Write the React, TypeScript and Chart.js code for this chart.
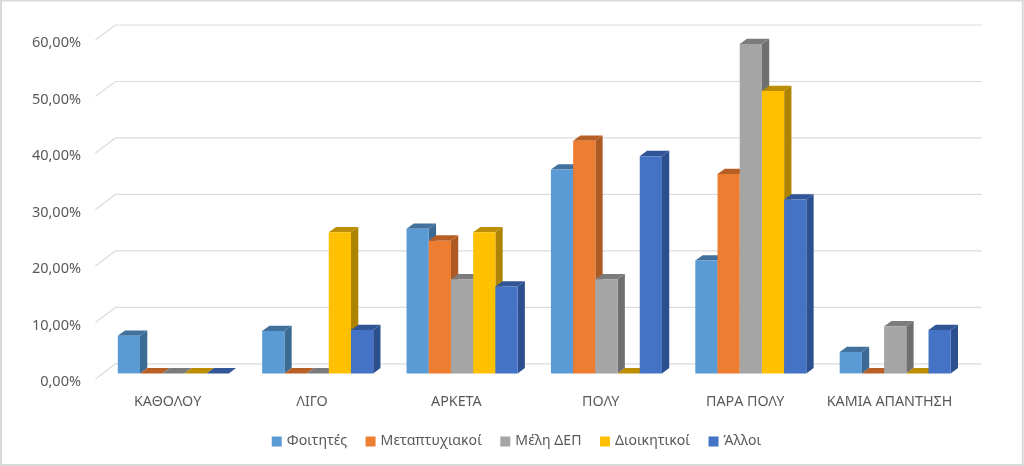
import React, { useEffect, useRef } from "react";
import { Chart, registerables } from "chart.js";

Chart.register(...registerables);

const categories = ["ΚΑΘΟΛΟΥ", "ΛΙΓΟ", "ΑΡΚΕΤΑ", "ΠΟΛΥ", "ΠΑΡΑ ΠΟΛΥ", "ΚΑΜΙΑ ΑΠΑΝΤΗΣΗ"];
const foitites = [6.67, 7.5, 25.6, 36.1, 20, 3.8];
const metaptyxiakoi = [0, 0, 23.5, 41.2, 35.3, 0];
const melesDep = [0, 0, 16.67, 16.67, 58.33, 8.33];
const dioikitikoi = [0, 25, 25, 0, 50, 0];
const alloi = [0, 7.69, 15.38, 38.46, 30.77, 7.69];
const seriesNames = ["Φοιτητές", "Μεταπτυχιακοί", "Μέλη ΔΕΠ", "Διοικητικοί", "Άλλοι"];
const frontColors = ["#5b9bd5", "#ed7d31", "#a5a5a5", "#ffc000", "#4472c4"];
const topColors = ["#41719c", "#b85f25", "#7c7c7c", "#bc8e00", "#325597"];
const sideColors = ["#3b6a94", "#ae5a23", "#6f6f6f", "#ae8300", "#2c4f8f"];
const yTicks = [0, 10, 20, 30, 40, 50, 60];
const yTickLabels = ["0,00%", "10,00%", "20,00%", "30,00%", "40,00%", "50,00%", "60,00%"];

const FONT = "Noto Sans";
const TEXT = "#595959";
const GRID = "#d9d9d9";

const frame3d = {
  id: "frame3d",
  afterLayout(chart: any) {
    // Widen the y axis box so that its tick labels are not clipped to it.
    chart.scales.y.left = 0;
  },
  beforeDraw(chart: any) {
    const { ctx, scales } = chart;
    ctx.save();
    ctx.strokeStyle = GRID;
    ctx.lineWidth = 2;
    ctx.strokeRect(1, 0.5, 1021.8, 464.5);
    ctx.lineWidth = 1.2;
    ctx.strokeStyle = "#dcdcdc";
    const x0 = scales.x.left;
    for (const v of yTicks) {
      const y = scales.y.getPixelForValue(v);
      ctx.beginPath();
      ctx.moveTo(x0, y);
      ctx.lineTo(x0 + 20, y - 15);
      ctx.lineTo(scales.x.right + 20, y - 15);
      ctx.stroke();
    }
    ctx.restore();
  },
  beforeDatasetsDraw(chart: any) {
    const { ctx } = chart;
    const dx = 7.3;
    const dy = -5.3;
    ctx.save();
    ctx.translate(5.7, -5.5);
    chart.data.datasets.forEach((_: any, i: number) => {
      const meta = chart.getDatasetMeta(i);
      meta.data.forEach((bar: any) => {
        const { x, y, base, width } = bar.getProps(["x", "y", "base", "width"]);
        const l = x - width / 2;
        const r = x + width / 2;
        ctx.fillStyle = sideColors[i];
        ctx.beginPath();
        ctx.moveTo(r, base);
        ctx.lineTo(r + dx, base + dy);
        ctx.lineTo(r + dx, y + dy);
        ctx.lineTo(r, y);
        ctx.closePath();
        ctx.fill();
        ctx.fillStyle = topColors[i];
        ctx.beginPath();
        ctx.moveTo(l, y);
        ctx.lineTo(l + dx, y + dy);
        ctx.lineTo(r + dx, y + dy);
        ctx.lineTo(r, y);
        ctx.closePath();
        ctx.fill();
        bar.draw(ctx);
      });
    });
    ctx.restore();
    return false;
  },
};

export default function App() {
  const ref = useRef<HTMLCanvasElement>(null);
  useEffect(() => {
    const chart = new Chart(ref.current as HTMLCanvasElement, {
      type: "bar",
      data: {
        labels: categories,
        datasets: [foitites, metaptyxiakoi, melesDep, dioikitikoi, alloi].map((data, i) => ({
          label: seriesNames[i],
          data,
          backgroundColor: frontColors[i],
          borderWidth: 0,
          categoryPercentage: 0.769,
          barPercentage: 1,
        })),
      },
      options: {
        responsive: false,
        animation: false,
        devicePixelRatio: 1,
        layout: { padding: { left: 73.3, right: 62.3, top: 40, bottom: 7.5 } },
        scales: {
          x: {
            border: { display: false },
            grid: { display: false, drawTicks: false },
            ticks: { color: TEXT, font: { family: FONT, size: 14.3 }, padding: 14, autoSkip: false, maxRotation: 0 },
            afterFit(s: any) {
              s.height = 35;
            },
          },
          y: {
            min: 0,
            max: 60,
            border: { display: false },
            grid: { display: false, drawTicks: false },
            afterBuildTicks(s: any) {
              s.ticks = yTicks.map((value) => ({ value }));
            },
            ticks: {
              color: TEXT,
              // An empty first line moves each label 3px below its tick, as in the reference.
              font: { family: FONT, size: 14.5, lineHeight: 6 / 14.5 },
              padding: 14.4,
              callback: (_v: any, i: number) => ["", yTickLabels[i]],
            },
            afterFit(s: any) {
              s.width = 22.1;
            },
          },
        },
        plugins: {
          tooltip: { enabled: false },
          legend: {
            position: "bottom",
            labels: {
              color: TEXT,
              font: { family: FONT, size: 14.1 },
              boxWidth: 6,
              boxHeight: 6,
              padding: 20.5,
              generateLabels: () =>
                seriesNames.map((text, i) => ({
                  text,
                  fontColor: TEXT,
                  fillStyle: frontColors[i],
                  strokeStyle: frontColors[i],
                  lineWidth: 4,
                  datasetIndex: i,
                  hidden: false,
                })),
            },
          },
        },
      },
      plugins: [frame3d],
    } as any);
    return () => chart.destroy();
  }, []);
  return (
    <div style={{ position: "fixed", left: 0, top: 0, width: 1024, height: 466, background: "#fff" }}>
      <canvas ref={ref} width={1024} height={466} style={{ display: "block" }} />
    </div>
  );
}
